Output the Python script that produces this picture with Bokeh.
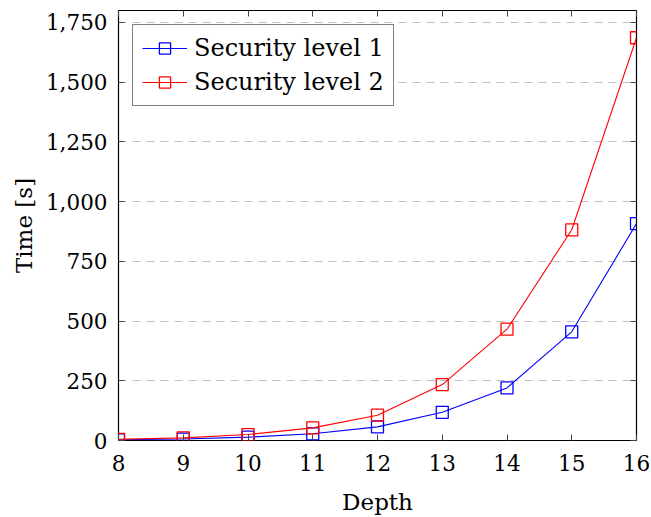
from bokeh.plotting import figure
from bokeh.models import (LinearAxis, FixedTicker, NumeralTickFormatter, Range1d,
                          Legend, LegendItem)
from bokeh.embed import file_html
from bokeh.resources import INLINE

depth = [8, 9, 10, 11, 12, 13, 14, 15, 16]
level1 = [3, 6, 14, 28, 57, 118, 220, 455, 908]
level2 = [5, 11, 25, 53, 106, 234, 466, 882, 1686]
x_ticks = [8, 9, 10, 11, 12, 13, 14, 15, 16]
y_ticks = [0, 250, 500, 750, 1000, 1250, 1500, 1750]

FONT = "DejaVu Serif"

p = figure(width=651, height=517, output_backend="svg", toolbar_location=None,
           x_range=Range1d(8, 16), y_range=Range1d(0, 1800),
           min_border_left=118, min_border_right=15, min_border_top=10,
           min_border_bottom=77)
p.background_fill_color = "white"
p.border_fill_color = "white"
p.outline_line_color = "black"
p.outline_line_width = 1.2
p.outline_line_alpha = 1

p.xgrid.grid_line_color = None
p.ygrid.grid_line_color = "#c0c0c0"
p.ygrid.grid_line_dash = "8 6"
p.ygrid.grid_line_width = 1
p.ygrid.ticker = FixedTicker(ticks=y_ticks)

def style_axis(ax):
    ax.axis_line_color = None
    ax.major_tick_in = 6
    ax.major_tick_out = 0
    ax.minor_tick_line_color = None
    ax.major_tick_line_color = "#444444"
    ax.major_tick_line_width = 1
    ax.major_label_text_font = FONT
    ax.major_label_text_font_size = "21.5px"
    ax.major_label_text_color = "black"
    ax.axis_label_text_font = FONT
    ax.axis_label_text_font_size = "23px"
    ax.axis_label_text_font_style = "normal"
    ax.axis_label_text_color = "black"

p.xaxis.ticker = FixedTicker(ticks=x_ticks)
p.yaxis.ticker = FixedTicker(ticks=y_ticks)
p.yaxis.formatter = NumeralTickFormatter(format="0,0")
p.xaxis.axis_label = "Depth"
p.yaxis.axis_label = "Time [s]"
style_axis(p.xaxis[0])
style_axis(p.yaxis[0])
p.xaxis.major_label_standoff = 14
p.yaxis.major_label_standoff = 11
p.xaxis.axis_label_standoff = 15
p.yaxis.axis_label_standoff = 6

top = LinearAxis(ticker=FixedTicker(ticks=x_ticks),
                 major_label_overrides={t: "" for t in x_ticks})
right = LinearAxis(ticker=FixedTicker(ticks=y_ticks),
                   major_label_overrides={t: "" for t in y_ticks})
style_axis(top)
style_axis(right)
top.major_label_standoff = 0
right.major_label_standoff = 0
p.add_layout(top, "above")
p.add_layout(right, "right")

l1 = p.line(depth, level1, line_color="#0000ff", line_width=1.1)
m1 = p.scatter(depth, level1, marker="square", size=12, line_color="#0000ff",
               line_width=1.3, fill_alpha=0)
l2 = p.line(depth, level2, line_color="#ff0000", line_width=1.1)
m2 = p.scatter(depth, level2, marker="square", size=12, line_color="#ff0000",
               line_width=1.3, fill_alpha=0)

legend = Legend(items=[LegendItem(label="Security level 1", renderers=[l1, m1]),
                       LegendItem(label="Security level 2", renderers=[l2, m2])],
                location="top_left")
legend.margin = 14
legend.padding = 9
legend.spacing = 6
legend.label_height = 28
legend.glyph_height = 28
legend.glyph_width = 45
legend.label_standoff = 7
legend.label_text_font = FONT
legend.label_text_font_size = "24px"
legend.label_text_color = "black"
legend.border_line_color = "black"
legend.border_line_width = 1.2
legend.background_fill_color = "white"
legend.background_fill_alpha = 1
p.add_layout(legend)

open("out.html", "w").write(file_html(p, INLINE))
